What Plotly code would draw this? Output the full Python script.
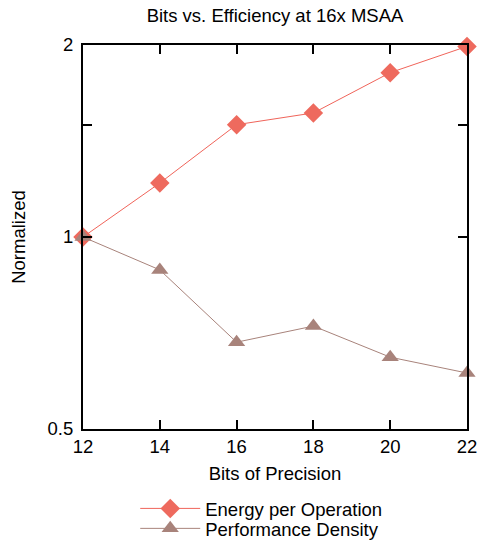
import plotly.graph_objects as go

bits = [12, 14, 16, 18, 20, 22]
energy = [1.0, 1.215, 1.50, 1.565, 1.81, 1.99]
perf = [1.0, 0.888, 0.684, 0.725, 0.648, 0.612]
ytick_vals = [0.5, 1, 1.5, 2]
ytick_text = ["0.5", "1", "", "2"]

fig = go.Figure()
fig.add_trace(go.Scatter(x=bits, y=energy, mode="lines+markers", name="Energy per Operation",
                         cliponaxis=False, legend="legend",
                         line=dict(color="#f0645a", width=1),
                         marker=dict(symbol="diamond", size=15, color="#ee6a5e")))
fig.add_trace(go.Scatter(x=bits, y=perf, mode="lines+markers", name="Performance Density",
                         cliponaxis=False, legend="legend2",
                         line=dict(color="#a8837b", width=1),
                         marker=dict(symbol="triangle-up", size=15, color="#a8837b")))

font = "Liberation Sans, Arial, sans-serif"
FS = 18.5
leg = dict(x=0.136, xanchor="left", yanchor="middle", itemwidth=60,
           font=dict(size=FS), bgcolor="rgba(0,0,0,0)")
fig.update_layout(
    width=478, height=543,
    margin=dict(l=83, r=11, t=45, b=114, autoexpand=False),
    paper_bgcolor="white", plot_bgcolor="white",
    font=dict(family=font, size=FS, color="black"),
    title=dict(text="Bits vs. Efficiency at 16x MSAA", x=0.5, xanchor="center",
               xref="paper", y=1 - 16 / 543, yanchor="middle", yref="container",
               font=dict(size=FS)),
    showlegend=True,
    legend=dict(leg, y=-0.208),
    legend2=dict(leg, y=-0.260),
)
fig.update_xaxes(range=[12, 22], tickvals=bits, showgrid=False, zeroline=False, automargin=False,
                 showline=True, linecolor="black", linewidth=2, mirror="ticks",
                 ticks="inside", ticklen=9, tickwidth=1.5, tickcolor="black",
                 title=dict(text="Bits of Precision", standoff=11, font=dict(size=FS)),
                 tickfont=dict(size=FS))
fig.update_yaxes(type="log", range=[-0.30103, 0.30103], tickvals=ytick_vals, ticktext=ytick_text,
                 showgrid=False, zeroline=False, automargin=False,
                 showline=True, linecolor="black", linewidth=2, mirror="ticks",
                 ticks="inside", ticklen=9, tickwidth=1.5, tickcolor="black",
                 ticklabelstandoff=4,
                 title=dict(text="Normalized", standoff=17, font=dict(size=FS)),
                 tickfont=dict(size=FS))

fig.write_html("out.html", config={"displayModeBar": False},
               post_script="document.body.style.margin='0';document.body.style.overflow='hidden';")
